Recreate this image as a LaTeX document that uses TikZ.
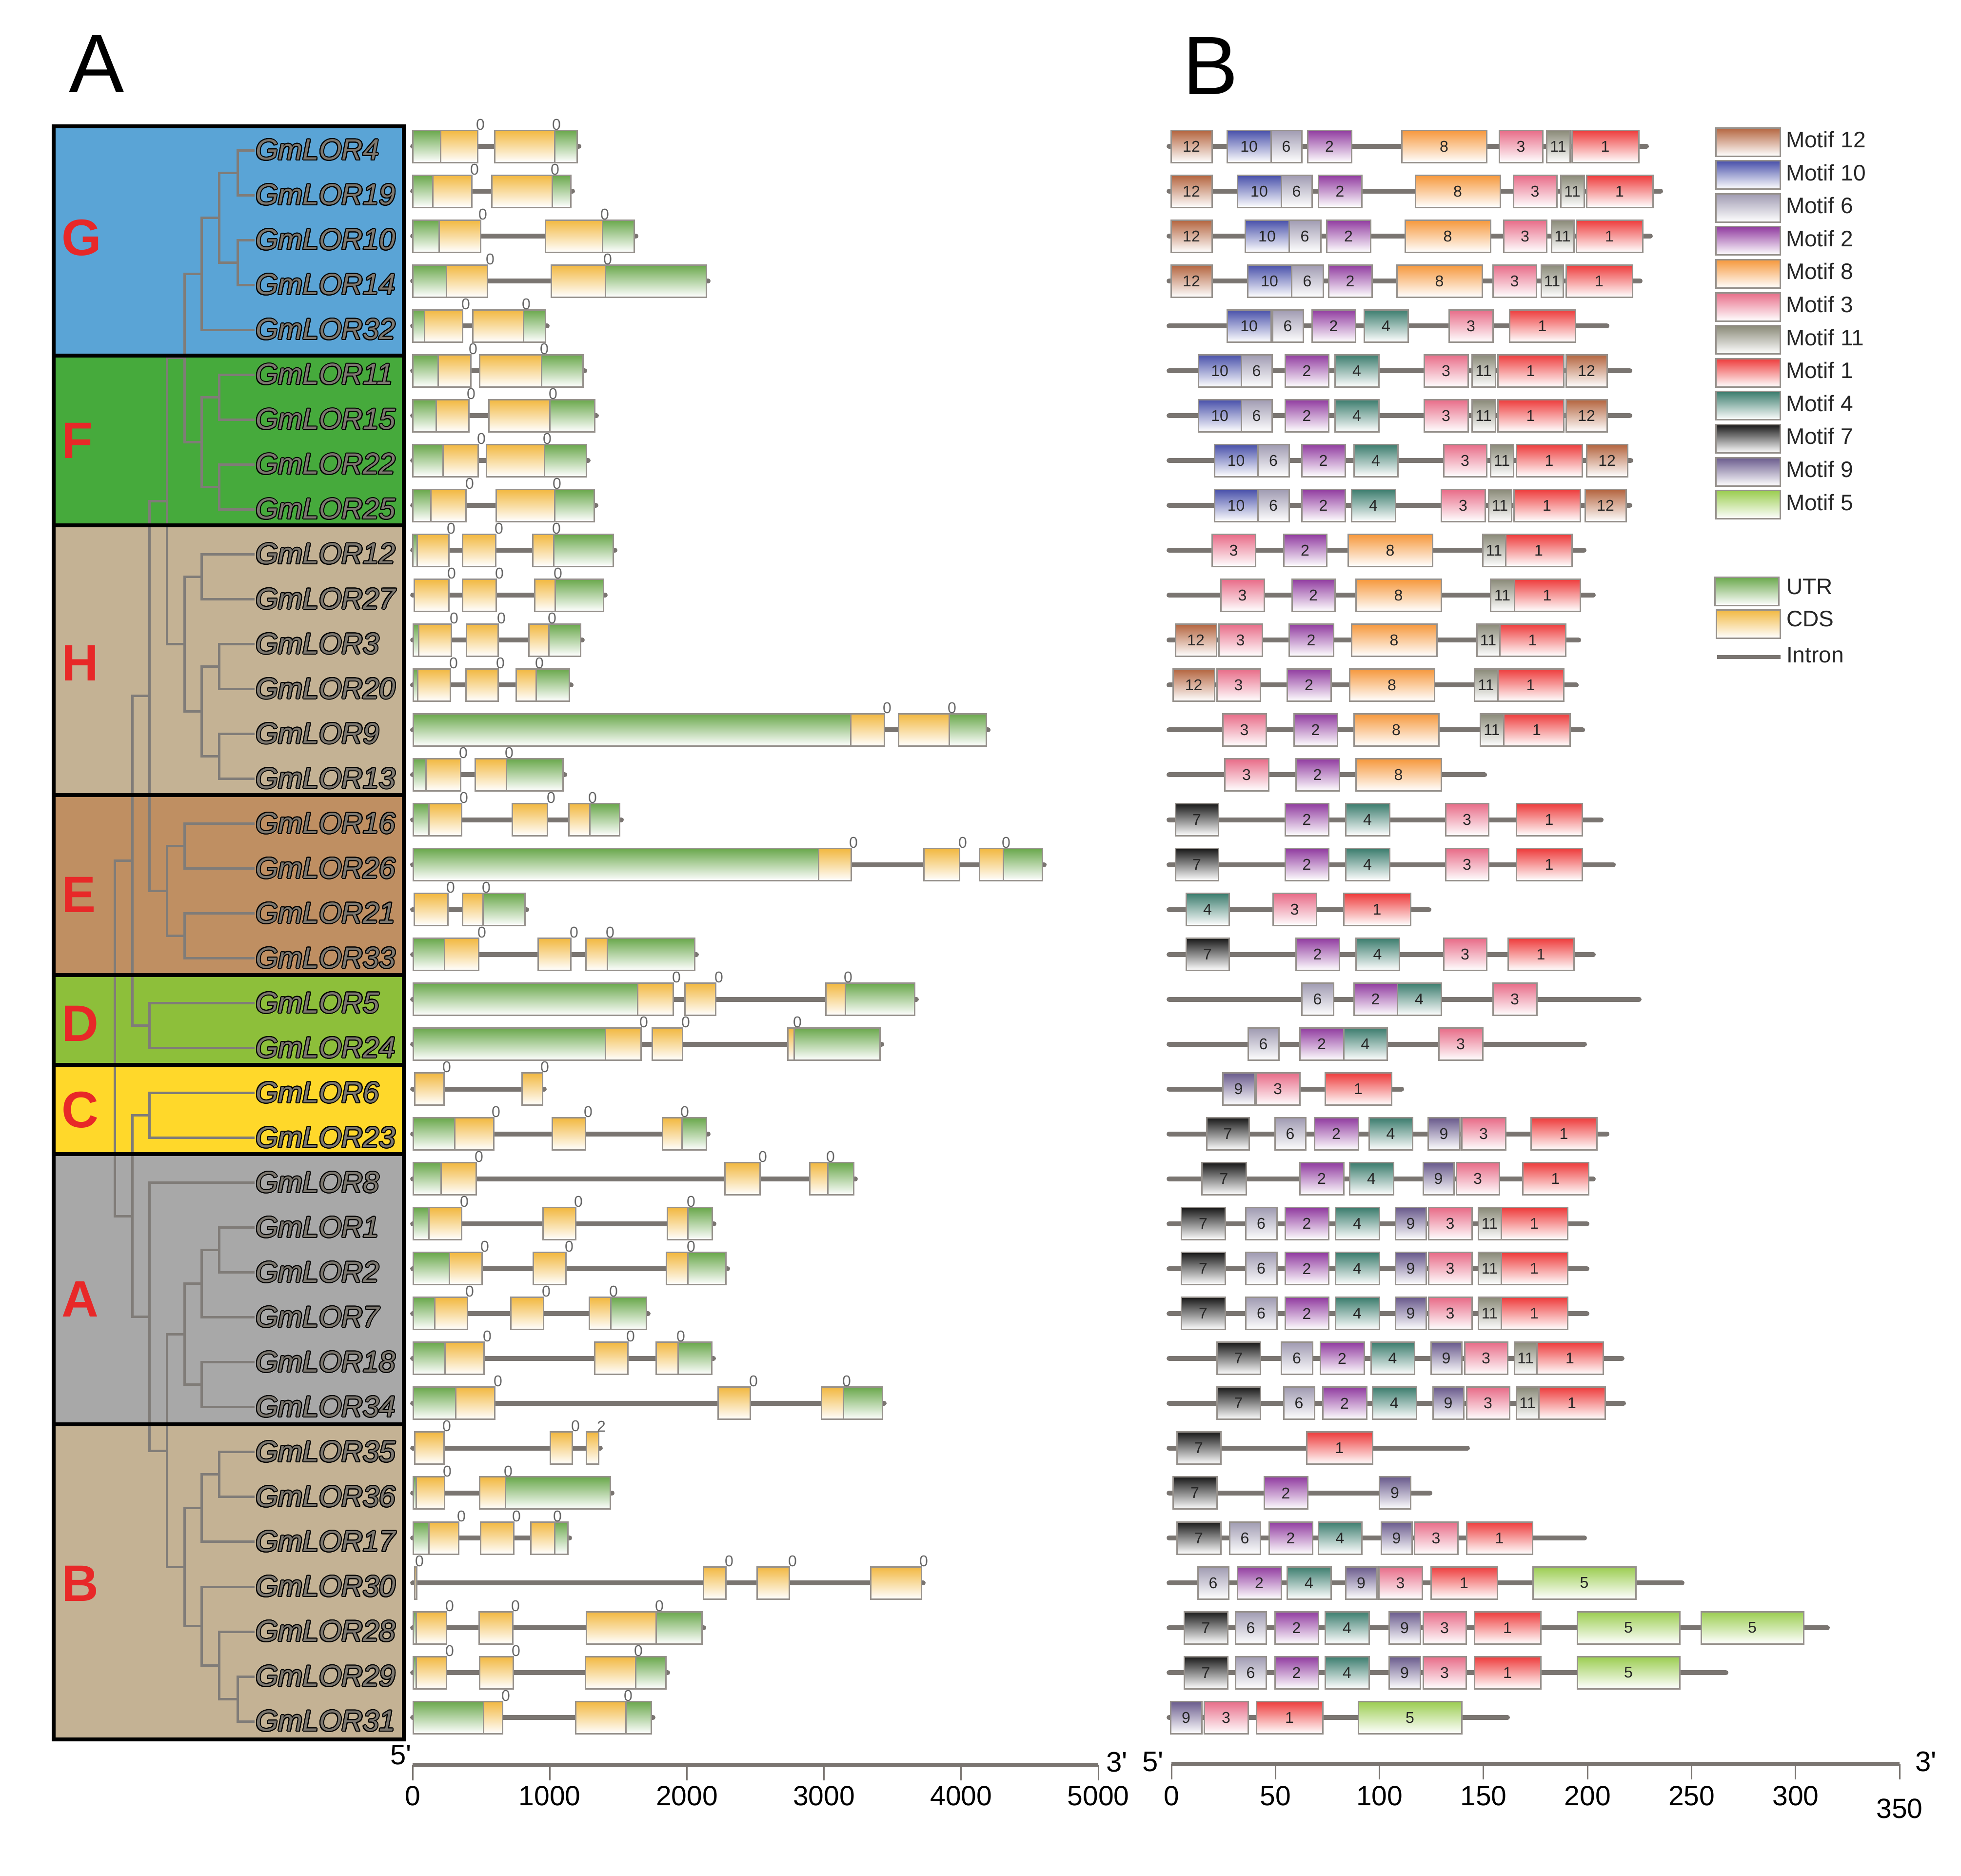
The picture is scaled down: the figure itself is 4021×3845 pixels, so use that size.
\documentclass[tikz,border=0pt]{standalone}
\usepackage{fontspec}
\setmainfont{Liberation Sans}
\newfontfamily\primefont{Liberation Sans}[Ligatures=TeXOff]
\usepackage[copies]{contour}
\contourlength{0.2pt}
\contournumber{16}
\definecolor{cG}{RGB}{90,164,214}
\definecolor{cF}{RGB}{70,170,60}
\definecolor{cH}{RGB}{196,178,148}
\definecolor{cE}{RGB}{191,143,98}
\definecolor{cD}{RGB}{141,191,58}
\definecolor{cCc}{RGB}{255,216,42}
\definecolor{cA}{RGB}{168,168,168}
\definecolor{cB}{RGB}{196,178,148}
\definecolor{cU}{RGB}{106,168,76}
\definecolor{cC}{RGB}{242,184,64}
\definecolor{m1}{RGB}{238,60,60}
\definecolor{m2}{RGB}{145,60,160}
\definecolor{m3}{RGB}{232,108,136}
\definecolor{m4}{RGB}{60,125,110}
\definecolor{m5}{RGB}{155,205,80}
\definecolor{m6}{RGB}{160,155,178}
\definecolor{m7}{RGB}{25,25,25}
\definecolor{m8}{RGB}{246,152,60}
\definecolor{m9}{RGB}{105,90,140}
\definecolor{m10}{RGB}{72,80,170}
\definecolor{m11}{RGB}{138,138,120}
\definecolor{m12}{RGB}{180,100,62}
\definecolor{treegray}{RGB}{128,124,120}
\definecolor{introngray}{RGB}{122,117,113}
\definecolor{boxgray}{RGB}{150,145,140}
\definecolor{namefill}{RGB}{125,120,112}
\definecolor{grpred}{RGB}{232,40,40}
\tikzset{
  tree/.style={draw=treegray, line width=0.5pt},
  frame/.style={draw=black, line width=0.8pt},
  gbox/.style={draw=boxgray, line width=0.3pt},
  mbox/.style={draw=boxgray, line width=0.3pt},
  intron/.style={draw=introngray, line width=1pt, line cap=round},
  mline/.style={draw=introngray, line width=1pt, line cap=round},
  gname/.style={anchor=west, inner sep=0pt, text=namefill, font=\fontsize{6pt}{7pt}\selectfont\itshape},
  grp/.style={anchor=west, inner sep=0pt, text=grpred, font=\fontsize{10.5pt}{12pt}\selectfont\bfseries},
  phase/.style={inner sep=0pt, text=black!60, font=\fontsize{3.2pt}{4pt}\selectfont},
  mnum/.style={inner sep=0pt, text=black!85, font=\fontsize{3.2pt}{4pt}\selectfont},
  legtxt/.style={anchor=west, inner sep=0pt, text=black!85, font=\fontsize{4.6pt}{5.5pt}\selectfont},
  axlab/.style={inner sep=0pt, text=black, font=\fontsize{5.7pt}{6.5pt}\selectfont},
  primelab/.style={inner sep=0pt, text=black, font=\fontsize{5.8pt}{6.5pt}\selectfont\primefont},
  panel/.style={inner sep=0pt, text=black, font=\fontsize{17pt}{19pt}\selectfont},
  axisline/.style={draw=introngray, line width=0.9pt},
  tickline/.style={draw=introngray, line width=0.3pt}
}
\begin{document}
\begin{tikzpicture}[x=0.1pt,y=-0.1pt]
\path[use as bounding box, fill=white] (0,0) rectangle (4021,3845);

% panel letters
\node[panel] (panelA) at (198,131) {A};
\node[panel] (panelB) at (2482,135) {B};

% group backgrounds
\fill[cG] (110,259) rectangle (828,729);
\fill[cF] (110,729) rectangle (828,1077);
\fill[cH] (110,1077) rectangle (828,1630);
\fill[cE] (110,1630) rectangle (828,1999);
\fill[cD] (110,1999) rectangle (828,2183);
\fill[cCc] (110,2183) rectangle (828,2366);
\fill[cA] (110,2366) rectangle (828,2920);
\fill[cB] (110,2920) rectangle (828,3566);

% tree
\draw[tree] (522,308) -- (487,308) -- (487,400) -- (522,400);
\draw[tree] (522,492.1) -- (487,492.1) -- (487,584.1) -- (522,584.1);
\draw[tree] (487,354) -- (449,354) -- (449,538.1) -- (487,538.1);
\draw[tree] (449,446) -- (413,446) -- (413,676.1) -- (522,676.1);
\draw[tree] (522,768.2) -- (449,768.2) -- (449,860.2) -- (522,860.2);
\draw[tree] (522,952.2) -- (449,952.2) -- (449,1044.2) -- (522,1044.2);
\draw[tree] (449,814.2) -- (413,814.2) -- (413,998.2) -- (449,998.2);
\draw[tree] (413,561) -- (378,561) -- (378,906.2) -- (413,906.2);
\draw[tree] (522,1136.3) -- (413,1136.3) -- (413,1228.3) -- (522,1228.3);
\draw[tree] (522,1320.3) -- (449,1320.3) -- (449,1412.4) -- (522,1412.4);
\draw[tree] (522,1504.4) -- (449,1504.4) -- (449,1596.4) -- (522,1596.4);
\draw[tree] (449,1366.3) -- (413,1366.3) -- (413,1550.4) -- (449,1550.4);
\draw[tree] (413,1182.3) -- (378,1182.3) -- (378,1458.4) -- (413,1458.4);
\draw[tree] (378,733.6) -- (342,733.6) -- (342,1320.3) -- (378,1320.3);
\draw[tree] (522,1688.5) -- (378,1688.5) -- (378,1780.5) -- (522,1780.5);
\draw[tree] (522,1872.5) -- (378,1872.5) -- (378,1964.5) -- (522,1964.5);
\draw[tree] (378,1734.5) -- (342,1734.5) -- (342,1918.5) -- (378,1918.5);
\draw[tree] (342,1027) -- (306,1027) -- (306,1826.5) -- (342,1826.5);
\draw[tree] (522,2056.6) -- (306,2056.6) -- (306,2148.6) -- (522,2148.6);
\draw[tree] (306,1426.7) -- (271,1426.7) -- (271,2102.6) -- (306,2102.6);
\draw[tree] (522,2240.6) -- (306,2240.6) -- (306,2332.7) -- (522,2332.7);
\draw[tree] (522,2516.7) -- (449,2516.7) -- (449,2608.8) -- (522,2608.8);
\draw[tree] (449,2562.8) -- (413,2562.8) -- (413,2700.8) -- (522,2700.8);
\draw[tree] (522,2792.8) -- (413,2792.8) -- (413,2884.8) -- (522,2884.8);
\draw[tree] (413,2631.8) -- (378,2631.8) -- (378,2838.8) -- (413,2838.8);
\draw[tree] (522,2976.9) -- (449,2976.9) -- (449,3068.9) -- (522,3068.9);
\draw[tree] (449,3022.9) -- (413,3022.9) -- (413,3160.9) -- (522,3160.9);
\draw[tree] (522,3437) -- (487,3437) -- (487,3529.1) -- (522,3529.1);
\draw[tree] (522,3345) -- (449,3345) -- (449,3483) -- (487,3483);
\draw[tree] (522,3253) -- (413,3253) -- (413,3414) -- (449,3414);
\draw[tree] (413,3091.9) -- (378,3091.9) -- (378,3333.5) -- (413,3333.5);
\draw[tree] (378,2735.3) -- (342,2735.3) -- (342,3212.7) -- (378,3212.7);
\draw[tree] (522,2424.7) -- (306,2424.7) -- (306,2974) -- (342,2974);
\draw[tree] (306,2286.6) -- (271,2286.6) -- (271,2699.4) -- (306,2699.4);
\draw[tree] (271,1764.6) -- (235,1764.6) -- (235,2493) -- (271,2493);

% gene names
\foreach \n [count=\i from 0] in {4,19,10,14,32,11,15,22,25,12,27,3,20,9,13,16,26,21,33,5,24,6,23,8,1,2,7,18,34,35,36,17,30,28,29,31}
  \node[gname] (n\n) at (522,{308+92.03*\i}) {\contour{black}{GmLOR\n}};

% group letters
\node[grp] (lG) at (125,487) {G};
\node[grp] (lF) at (125,903) {F};
\node[grp] (lH) at (125,1359) {H};
\node[grp] (lE) at (125,1834) {E};
\node[grp] (lD) at (125,2098) {D};
\node[grp] (lC) at (125,2275) {C};
\node[grp] (lA) at (125,2663) {A};
\node[grp] (lB) at (125,3246) {B};

% separators and frame
\foreach \yy in {729,1077,1630,1999,2183,2366,2920}
  \draw[frame] (110,\yy) -- (828,\yy);
\draw[frame] (110,259) rectangle (828,3566);

% gene structures
\foreach \r/\segs/\labs/\e in {
0/{U/846/903,C/903/979,C/1014/1137,U/1137/1183}/{985/0,1141/0}/1183,
1/{U/846/887,C/887/967,C/1008/1132,U/1132/1170}/{973/0,1138/0}/1170,
2/{U/846/900,C/900/985,C/1118/1235,U/1235/1300}/{990/0,1240/0}/1300,
3/{U/846/915,C/915/999,C/1130/1241,U/1241/1448}/{1005/0,1246/0}/1448,
4/{U/846/870,C/870/948,C/969/1073,U/1073/1118}/{955/0,1079/0}/1118,
5/{U/846/898,C/898/965,C/983/1110,U/1110/1195}/{970/0,1116/0}/1195,
6/{U/846/894,C/894/961,C/1002/1127,U/1127/1219}/{966/0,1134/0}/1219,
7/{U/846/908,C/908/980,C/997/1116,U/1116/1202}/{987/0,1122/0}/1202,
8/{U/846/883,C/883/955,C/1017/1137,U/1137/1218}/{963/0,1142/0}/1218,
9/{U/846/855,C/855/920,C/948/1016,C/1092/1135,U/1135/1257}/{925/0,1023/0,1141/0}/1257,
10/{C/849/920,C/948/1017,C/1096/1138,U/1138/1237}/{926/0,1024/0,1144/0}/1237,
11/{U/847/858,C/858/925,C/956/1021,C/1084/1125,U/1125/1190}/{931/0,1028/0,1132/0}/1190,
12/{U/847/856,C/856/923,C/955/1021,C/1058/1099,U/1099/1167}/{930/0,1026/0,1106/0}/1167,
13/{U/847/1744,C/1744/1813,C/1842/1946,U/1946/2022}/{1819/0,1952/0}/2022,
14/{U/847/873,C/873/944,C/974/1038,U/1038/1154}/{950/0,1044/0}/1154,
15/{U/847/879,C/879/946,C/1050/1122,C/1166/1209,U/1209/1270}/{951/0,1130/0,1215/0}/1270,
16/{U/847/1678,C/1678/1745,C/1894/1967,C/2008/2057,U/2057/2137}/{1750/0,1974/0,2063/0}/2137,
17/{C/849/918,C/948/990,U/990/1076}/{924/0,997/0}/1076,
18/{U/847/911,C/911/981,C/1103/1170,C/1201/1245,U/1245/1424}/{988/0,1177/0,1251/0}/1424,
19/{U/847/1307,C/1307/1380,C/1404/1467,C/1693/1733,U/1733/1875}/{1387/0,1474/0,1739/0}/1875,
20/{U/847/1241,C/1241/1314,C/1337/1399,C/1615/1628,U/1628/1804}/{1320/0,1406/0,1635/0}/1804,
21/{C/850/910,C/1070/1112}/{916/0,1117/0}/1112,
22/{U/847/932,C/932/1012,C/1132/1200,C/1358/1398,U/1398/1448}/{1017/0,1206/0,1404/0}/1448,
23/{U/847/904,C/904/976,C/1486/1558,C/1660/1697,U/1697/1750}/{982/0,1564/0,1703/0}/1750,
24/{U/847/879,C/879/946,C/1113/1180,C/1368/1410,U/1410/1460}/{952/0,1186/0,1417/0}/1460,
25/{U/847/921,C/921/988,C/1093/1160,C/1366/1410,U/1410/1488}/{994/0,1167/0,1417/0}/1488,
26/{U/847/891,C/891/958,C/1047/1114,C/1208/1252,U/1252/1325}/{963/0,1120/0,1258/0}/1325,
27/{U/847/912,C/912/992,C/1219/1287,C/1345/1390,U/1390/1459}/{999/0,1293/0,1396/0}/1459,
28/{U/847/934,C/934/1014,C/1472/1538,C/1684/1729,U/1729/1809}/{1021/0,1545/0,1736/0}/1809,
29/{C/850/910,C/1128/1173,C/1202/1227}/{916/0,1180/0,1233/2}/1227,
30/{U/847/853,C/853/911,C/983/1036,U/1036/1251}/{917/0,1042/0}/1251,
31/{U/847/879,C/879/940,C/985/1053,C/1088/1137,U/1137/1164}/{946/0,1059/0,1143/0}/1164,
32/{C/850/854,C/1442/1488,C/1552/1618,C/1785/1889}/{860/0,1495/0,1625/0,1894/0}/1889,
33/{U/847/853,C/853/915,C/982/1051,C/1202/1345,U/1345/1439}/{922/0,1057/0,1352/0}/1439,
34/{U/847/853,C/853/915,C/983/1052,C/1200/1303,U/1303/1365}/{922/0,1058/0,1309/0}/1365,
35/{U/847/991,C/991/1030,C/1180/1283,U/1283/1335}/{1037/0,1288/0}/1335%
}{
  \pgfmathsetmacro\cy{300+92.03*\r}
  \draw[intron] (846,\cy) -- (\e+4,\cy);
  \foreach \t/\a/\b in \segs {
    \draw[gbox, top color=c\t, bottom color=white] (\a,\cy-33) rectangle (\b,\cy+33);
  }
  \foreach \lx/\lt in \labs {
    \node[phase] (ph\r-\lx) at (\lx,\cy-45) {\lt};
  }
}

% motif structures
\foreach \r/\e/\ms in {
0/3376/{12/2401/2485,10/2516/2606,6/2606/2669,2/2681/2771,8/2874/3048,3/3074/3163,11/3171/3219,1/3223/3360},
1/3405/{12/2401/2485,10/2537/2627,6/2627/2690,2/2703/2792,8/2902/3076,3/3103/3192,11/3200/3248,1/3253/3389},
2/3384/{12/2401/2485,10/2553/2643,6/2643/2708,2/2720/2810,8/2881/3056,3/3083/3171,11/3181/3227,1/3232/3368},
3/3363/{12/2401/2485,10/2558/2648,6/2648/2713,2/2724/2813,8/2864/3039,3/3061/3150,11/3160/3205,1/3211/3347},
4/3295/{10/2516/2606,6/2609/2672,2/2690/2779,4/2797/2887,3/2971/3061,1/3095/3230},
5/3342/{10/2457/2545,6/2545/2608,2/2635/2724,4/2737/2827,3/2920/3010,11/3018/3066,1/3071/3206,12/3211/3295},
6/3342/{10/2457/2545,6/2545/2608,2/2635/2724,4/2737/2827,3/2920/3010,11/3018/3066,1/3071/3206,12/3211/3295},
7/3344/{10/2490/2579,6/2579/2643,2/2669/2758,4/2776/2866,3/2960/3048,11/3056/3103,1/3109/3244,12/3253/3337},
8/3342/{10/2490/2579,6/2579/2643,2/2669/2758,4/2771/2861,3/2955/3045,11/3052/3099,1/3104/3240,12/3250/3334},
9/3248/{3/2485/2574,2/2632/2720,8/2764/2937,11/3040/3087,1/3087/3223},
10/3267/{3/2503/2592,2/2649/2737,8/2780/2955,11/3056/3105,1/3105/3240},
11/3237/{12/2410/2494,3/2499/2588,2/2643/2734,8/2771/2946,11/3028/3075,1/3075/3210},
12/3232/{12/2405/2490,3/2495/2584,2/2639/2729,8/2767/2941,11/3023/3071,1/3071/3206},
13/3245/{3/2507/2596,2/2653/2742,8/2776/2950,11/3035/3083,1/3083/3219},
14/3044/{3/2511/2601,2/2657/2746,8/2780/2955},
15/3283/{7/2410/2498,2/2635/2724,4/2759/2849,3/2964/3052,1/3109/3244},
16/3308/{7/2410/2498,2/2635/2724,4/2759/2849,3/2964/3052,1/3109/3244},
17/2930/{4/2432/2520,3/2610/2699,1/2755/2892},
18/3267/{7/2432/2520,2/2657/2746,4/2780/2869,3/2960/3048,1/3092/3227},
19/3361/{6/2669/2734,2/2776/2865,4/2865/2955,3/3061/3151},
20/3249/{6/2559/2622,2/2665/2755,4/2755/2844,3/2950/3040},
21/2874/{9/2507/2572,3/2575/2665,1/2717/2853},
22/3295/{7/2474/2561,6/2614/2677,2/2695/2785,4/2807/2896,9/2928/2993,3/2997/3087,1/3139/3274},
23/3267/{7/2464/2555,2/2665/2755,4/2767/2857,9/2918/2981,3/2986/3074,1/3122/3257},
24/3254/{7/2422/2512,6/2554/2618,2/2635/2724,4/2738/2828,9/2861/2924,3/2929/3018,11/3031/3078,1/3078/3214},
25/3254/{7/2422/2512,6/2554/2618,2/2635/2724,4/2738/2828,9/2861/2924,3/2929/3018,11/3031/3078,1/3078/3214},
26/3254/{7/2422/2512,6/2554/2618,2/2635/2724,4/2738/2828,9/2861/2924,3/2929/3018,11/3031/3078,1/3078/3214},
27/3326/{7/2495/2584,6/2627/2691,2/2707/2797,4/2811/2900,9/2934/2997,3/3003/3091,11/3105/3151,1/3151/3287},
28/3329/{7/2495/2584,6/2632/2695,2/2712/2802,4/2814/2904,9/2938/3001,3/3007/3095,11/3109/3155,1/3155/3291},
29/3009/{7/2413/2503,1/2679/2814},
30/2932/{7/2405/2495,2/2592/2681,9/2828/2892},
31/3249/{7/2413/2503,6/2521/2584,2/2602/2691,4/2703/2792,9/2832/2895,3/2900/2989,1/3007/3142},
32/3449/{6/2456/2519,2/2537/2627,4/2639/2729,9/2759/2823,3/2827/2916,1/2934/3070,5/3143/3354},
33/3747/{7/2428/2517,6/2533/2596,2/2614/2703,4/2717/2807,9/2848/2912,3/2918/3006,1/3023/3159,5/3234/3444,5/3488/3698},
34/3539/{7/2428/2517,6/2533/2596,2/2614/2703,4/2717/2807,9/2848/2912,3/2918/3006,1/3023/3159,5/3234/3444},
35/3091/{9/2400/2464,3/2469/2559,1/2576/2712,5/2785/2997}%
}{
  \pgfmathsetmacro\cy{300+92.03*\r}
  \draw[mline] (2397,\cy) -- (\e,\cy);
  \foreach \m/\a/\b in \ms {
    \draw[mbox, top color=m\m, bottom color=white] (\a,\cy-33) rectangle (\b,\cy+33);
    \node[mnum] (mt\r-\a) at ({(\a+\b)/2},\cy) {\m};
  }
}

% motif legend
\foreach \m [count=\k from 0] in {12,10,6,2,8,3,11,1,4,7,9,5} {
  \draw[mbox, top color=m\m, bottom color=white] (3518,{262+67.6*\k}) rectangle (3650,{320+67.6*\k});
  \node[legtxt] (leg\m) at (3660,{286+67.6*\k}) {Motif \m};
}
\draw[gbox, top color=cU, bottom color=white] (3516,1183) rectangle (3647,1241);
\node[legtxt] (legU) at (3661,1203) {UTR};
\draw[gbox, top color=cC, bottom color=white] (3519,1250) rectangle (3650,1308);
\node[legtxt] (legC) at (3661,1269) {CDS};
\draw[introngray, line width=0.8pt] (3521,1347) -- (3651,1347);
\node[legtxt] (legI) at (3661,1343) {Intron};

% axis A
\draw[axisline] (846,3618) -- (2252,3618);
\foreach \k/\t in {0/0,1/1000,2/2000,3/3000,4/4000,5/5000} {
  \draw[tickline] ({846+281.2*\k},3618) -- ({846+281.2*\k},3650);
  \node[axlab] (ax\k) at ({846+281.2*\k},3682) {\t};
}
\node[primelab] (p5a) at (822,3598) {5'};
\node[primelab] (p3a) at (2290,3612) {3'};

% axis B
\draw[axisline] (2402,3616) -- (3895,3616);
\foreach \k/\t in {0/0,1/50,2/100,3/150,4/200,5/250,6/300} {
  \draw[tickline] ({2402+213.3*\k},3616) -- ({2402+213.3*\k},3648);
  \node[axlab] (bx\k) at ({2402+213.3*\k},3682) {\t};
}
\draw[tickline] (3895,3616) -- (3895,3648);
\node[axlab] (bx7) at (3895,3708) {350};
\node[primelab] (p5b) at (2364,3612) {5'};
\node[primelab] (p3b) at (3949,3611) {3'};
\end{tikzpicture}
\end{document}
